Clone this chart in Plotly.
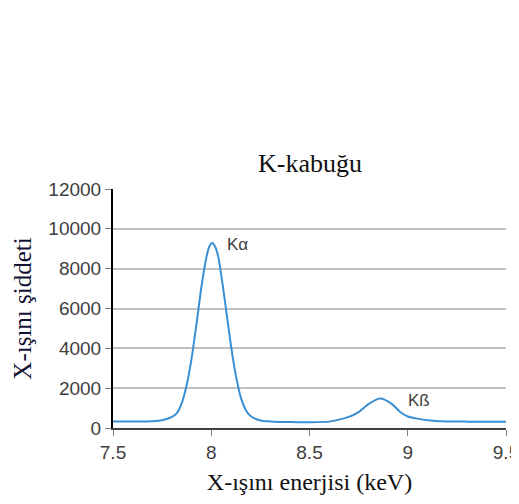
import plotly.graph_objects as go

# Energy (keV) and intensity
energy = [7.5, 7.6, 7.7, 7.75, 7.8, 7.825, 7.85, 7.875, 7.9, 7.925, 7.95, 7.975, 7.99, 8.005,
          8.02, 8.035, 8.05, 8.075, 8.1, 8.125, 8.15, 8.175, 8.2, 8.25,
          8.3, 8.4, 8.5, 8.6, 8.65, 8.7, 8.75, 8.8, 8.86, 8.92, 8.96, 9.0, 9.05, 9.1, 9.2,
          9.3, 9.4, 9.5]
intensity = [330, 330, 340, 390, 560, 750, 1250, 2160, 3500, 5240, 7080, 8560, 9100, 9290,
             9100, 8620, 7740, 5980, 4160, 2640, 1550, 920, 600, 380,
             330, 300, 290, 320, 420, 560, 800, 1200, 1480, 1200, 820, 580, 470, 390, 330,
             320, 320, 320]

peak_labels = ["Kα", "Kß"]
peak_label_x = [8.07, 8.99]
peak_label_y = [9200, 1370]

x_ticks = [7.5, 8, 8.5, 9, 9.5]
x_tick_text = ["7.5", "8", "8.5", "9", "9.5"]
y_ticks = [0, 2000, 4000, 6000, 8000, 10000, 12000]
y_tick_text = ["0", "2000", "4000", "6000", "8000", "10000", "12000"]

# the page body adds an 8px offset, so the figure is 8px smaller each way
W, H = 511, 496

fig = go.Figure()
fig.add_trace(go.Scatter(
    x=energy, y=intensity, mode="lines",
    line=dict(color="#3a8fd2", width=2, shape="spline", smoothing=0.7),
    showlegend=False, hoverinfo="skip"))

for t, xx, yy in zip(peak_labels, peak_label_x, peak_label_y):
    fig.add_annotation(x=xx, y=yy, text=t, showarrow=False, xanchor="left", yanchor="middle",
                       font=dict(family="Liberation Sans, Arial", size=17, color="#404040"))

fig.update_layout(
    width=W, height=H,
    margin=dict(l=105, r=13, t=181, b=76, autoexpand=False),
    paper_bgcolor="white", plot_bgcolor="white",
    title=dict(text="K-kabuğu", x=302 / W, xref="container", xanchor="center",
               y=1 - 155 / H, yref="container", yanchor="middle",
               font=dict(family="Liberation Serif, Times New Roman", size=26, color="#111111")),
    xaxis=dict(range=[7.5, 9.5], tickvals=x_ticks, ticktext=x_tick_text,
               showgrid=False, zeroline=False, automargin=False,
               showline=True, linecolor="#404040", linewidth=2,
               ticks="outside", ticklen=6, tickcolor="#808080", tickwidth=1,
               ticklabeloverflow="allow",
               tickfont=dict(family="Liberation Sans, Arial", size=19, color="#404040"),
               title=dict(text="X-ışını enerjisi (keV)", standoff=11,
                          font=dict(family="Liberation Serif, Times New Roman", size=24, color="#111111"))),
    yaxis=dict(range=[0, 12000], tickvals=y_ticks, ticktext=y_tick_text,
               showgrid=True, gridcolor="#bfbfbf", gridwidth=1.5, zeroline=False, automargin=False,
               showline=True, linecolor="#000000", linewidth=2,
               ticks="outside", ticklen=6, tickcolor="#808080", tickwidth=1,
               tickfont=dict(family="Liberation Sans, Arial", size=19, color="#404040"),
               title=dict(text="X-ışını şiddeti", standoff=10,
                          font=dict(family="Liberation Serif, Times New Roman", size=25, color="#111133"))),
)

fig.write_html("out.html")
